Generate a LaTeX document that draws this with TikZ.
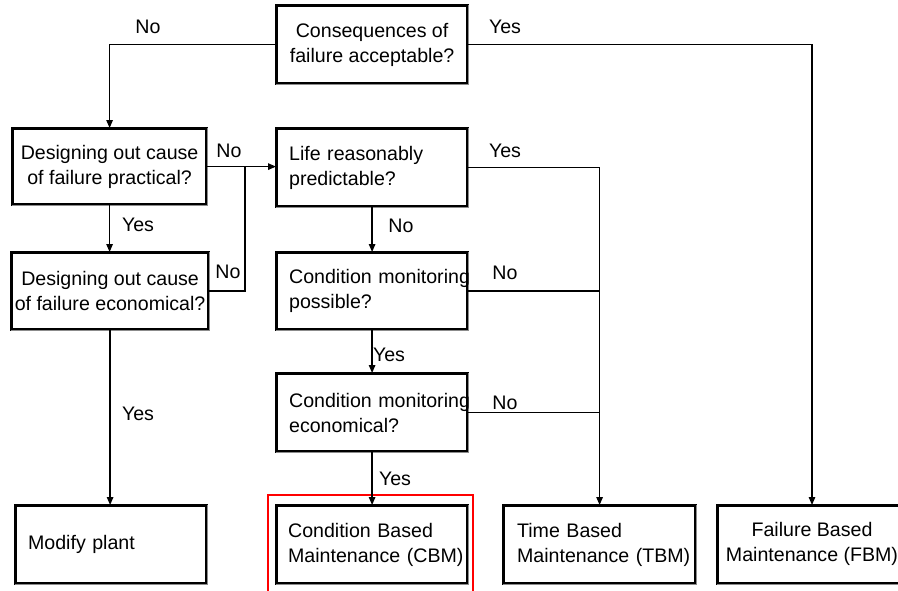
\documentclass[tikz,border=0pt]{standalone}
\usepackage{fontspec}
\setmainfont{Liberation Sans}
\usetikzlibrary{arrows.meta}

\tikzset{
  box/.style={
    preaction={draw=black, line width=4.6pt},
    preaction={draw=black!45, line width=3pt},
    fill=white, draw=black, line width=2.2pt,
    anchor=north west, inner sep=0pt,
    font=\fontsize{19.6}{25}\selectfont},
  lbox/.style={box, align=left, text width=#1},
  cbox/.style={box, align=center},
  conn/.style={draw=black, line width=1.3pt},
  arr/.style={conn, -{Triangle[length=8pt,width=6.5pt]}},
  lbl/.style={inner sep=0pt, font=\fontsize{19.6}{25}\selectfont},
}

\begin{document}
\begin{tikzpicture}[x=1pt, y=-1pt]
\useasboundingbox (0,0) rectangle (898,590);
\fill[white] (0,0) rectangle (898,590);

% decision boxes
\node[cbox, minimum width=190pt, minimum height=77pt] (cons) at (276,5)
  {Consequences of\\failure acceptable?};
\node[cbox, minimum width=193pt, minimum height=75pt] (prac) at (12,128)
  {Designing out cause\\of failure practical?};
\node[cbox, minimum width=196pt, minimum height=76pt] (econ) at (11,252)
  {Designing out cause\\of failure economical?};
\node[lbox=166pt, minimum width=190pt, minimum height=77pt, inner xsep=11pt] (life) at (276,128)
  {\mbox{Life reasonably}\\\mbox{predictable?}};
\node[lbox=166pt, minimum width=190pt, minimum height=76pt, inner xsep=11pt] (poss) at (276,252)
  {\mbox{Condition monitoring}\\\mbox{possible?}};
\node[lbox=166pt, minimum width=190pt, minimum height=77pt, inner xsep=11pt] (cmec) at (276,373)
  {\mbox{Condition monitoring}\\\mbox{economical?}};

% outcome boxes
\node[lbox=166pt, minimum width=190pt, minimum height=77pt, inner xsep=12pt] (modify) at (15,505)
  {\mbox{Modify plant}};
\node[lbox=168pt, minimum width=190pt, minimum height=77pt, inner xsep=11pt] (cbm) at (276,505)
  {\mbox{Condition Based}\\\mbox{Maintenance (CBM)}};
\node[lbox=165pt, minimum width=191pt, minimum height=77pt, inner xsep=13pt] (tbm) at (503,505)
  {\mbox{Time Based}\\\mbox{Maintenance (TBM)}};
\node[cbox, minimum width=181pt, minimum height=77pt] (fbm) at (717,505) {};
\node[lbl, align=center] (fbmtext) at (812,543.5) {Failure Based\\Maintenance (FBM)};

% highlight around the CBM outcome
\draw[red, line width=1.1pt] (268,591) -- (268,495) -- (473,495) -- (473,591);

% connectors
\coordinate (fbmin) at (812,505);
\coordinate (j) at (245,167);

\draw[arr] (cons.west) -| (prac.north);
\draw[arr] (cons.east) -| (fbmin);
\draw[arr] (prac.east) -- (prac.east -| life.west);
\draw[conn] (econ.east) -| (j);
\draw[arr] (prac.south) -- (prac.south |- econ.north);
\draw[arr] (econ.south) -- (econ.south |- modify.north);
\draw[arr] (life.east) -| (tbm.north);
\draw[conn] (poss.east) -- (poss.east -| tbm.north);
\draw[conn] (cmec.east) -- (cmec.east -| tbm.north);
\draw[arr] (life.south) -- (life.south |- poss.north);
\draw[arr] (poss.south) -- (poss.south |- cmec.north);
\draw[arr] (cmec.south) -- (cmec.south |- cbm.north);

% branch labels
\node[lbl] (l1) at (148,27) {No};
\node[lbl] (l2) at (505,27) {Yes};
\node[lbl] (l3) at (229,151) {No};
\node[lbl] (l4) at (138,225) {Yes};
\node[lbl] (l5) at (228,272) {No};
\node[lbl] (l6) at (505,151) {Yes};
\node[lbl] (l7) at (401,226) {No};
\node[lbl] (l8) at (505,273) {No};
\node[lbl] (l9) at (389,355) {Yes};
\node[lbl] (l10) at (505,403) {No};
\node[lbl] (l11) at (395,479) {Yes};
\node[lbl] (l12) at (138,414) {Yes};
\end{tikzpicture}
\end{document}
